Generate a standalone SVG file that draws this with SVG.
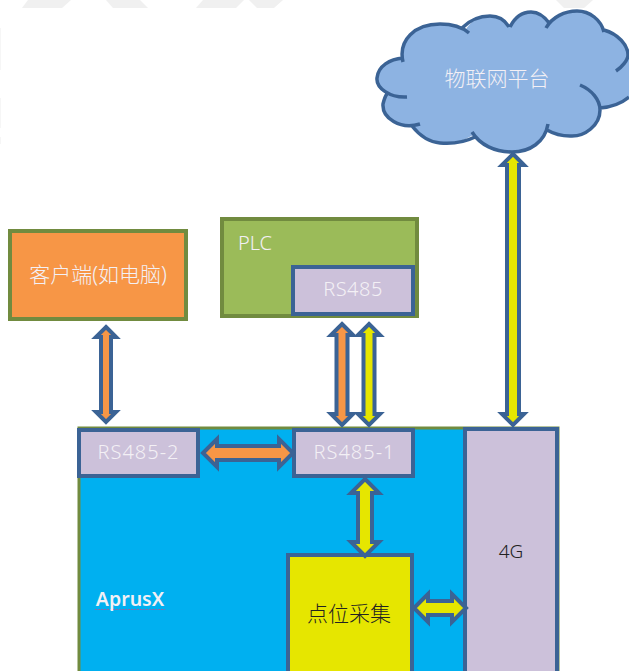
<svg xmlns="http://www.w3.org/2000/svg" width="629" height="671" viewBox="0 0 629 671">
<style>
.box{stroke-width:4;stroke:#3b6395;fill:#ccc1da}
.grn{stroke-width:4;stroke:#718b3f}
.arr{stroke:#3b6395;stroke-width:4;stroke-linejoin:miter}
.o{fill:#f79646}.y{fill:#e6e600}
text{font-family:"Noto Sans","Noto Sans CJK SC",sans-serif;text-anchor:middle;font-weight:300}
.w{fill:#f3f0f5}
.wm{fill:#f0f0f0}
.wl{fill:#f6f6f6}
</style>
<rect width="629" height="671" fill="#fff"/>
<g id="watermark">
<polygon class="wm" points="22,8 62,8 71,0 28,0"/>
<polygon class="wm" points="106,0 140,0 148,8 113,8"/>
<polygon class="wm" points="203,0 244,0 236,8 196,8"/>
<polygon class="wm" points="249,0 283,0 274,8 257,8"/>
<polygon class="wm" points="556,0 593,0 584,8 564,8"/>
<rect class="wl" x="0" y="28" width="1" height="42"/>
<rect class="wl" x="0" y="98" width="1" height="30"/>
<rect class="wl" x="0" y="137" width="1" height="7"/>
</g>
<g id="cloud">
<path d="M403 60C398 40 415 24 440 24C450 24 458 27 465 31C470 21 480 16 490 16C498 16 505 20 510 27C515 17 523 12 531 12C538 12 545 17 550 24C555 16 565 11 577 11C590 11 601 20 604 30C618 34 629 45 629 58V97C622 103 612 107 600 108C600 125 585 137 570 136C562 136 554 134 548 130C542 146 527 152 512 152C495 152 480 145 473 135C462 142 450 144 440 143C428 142 420 136 413 126C395 128 382 116 383 104C384 100 385 96 387 94C378 90 376 84 377 78C378 66 390 59 403 58Z" fill="#8db3e2"/>
<path d="M403 62C398 40 415 24 440 24C452 24 462 27 469 33M462 28C470 20 480 16 490 16C498 16 505 20 509 27M510 27C515 17 523 12 531 12C538 12 545 17 550 24M546 28C552 17 565 11 577 11C590 11 601 20 604 32M604 30C618 34 628 45 628 55C628 60 622 67 616 71M629 58V58M629 97C622 103 612 107 600 108M580 85C592 90 600 100 600 110C600 125 585 137 570 136C562 136 554 134 547 130M548 124C545 142 530 152 512 152C495 152 480 145 472 132M475 137C465 142 452 144 440 143C428 142 420 136 412 126M420 124C400 130 382 118 383 104C384 100 385 96 387 94M407 97C390 98 376 88 377 78C378 66 390 59 403 58" fill="none" stroke="#3b6395" stroke-width="3.5"/>
<text x="497" y="86" font-size="21" class="w">物联网平台</text>
</g>
<g id="client">
<rect class="grn" x="10" y="231" width="176" height="88" fill="#f79646"/>
<text x="98" y="282" font-size="21" class="w">客户端(如电脑)</text>
</g>
<g id="plc">
<rect class="grn" x="222" y="219" width="195" height="97" fill="#9bbb59"/>
<text x="255" y="250" font-size="20" class="w">PLC</text>
</g>
<g id="rs485">
<rect class="box" x="293" y="267" width="120" height="47"/>
<text x="353" y="296" font-size="20" class="w" letter-spacing="0.5">RS485</text>
</g>
<g id="aprusx">
<path d="M79 671V428H558V671" fill="#00b0f0" stroke="#718b3f" stroke-width="3"/>
<line x1="95" y1="609.500" x2="165" y2="609.500" stroke="#8a6aa8" stroke-width="1" stroke-dasharray="2 1"/>
<text x="130" y="606" font-size="19.500" style="font-weight:600" fill="#f3f0f5">AprusX</text>
</g>
<g id="rs485-2">
<rect class="box" x="79" y="430" width="119" height="46"/>
<text x="138.500" y="459" font-size="20" class="w" letter-spacing="1">RS485-2</text>
</g>
<g id="rs485-1">
<rect class="box" x="294" y="430" width="119" height="46"/>
<text x="354.500" y="459" font-size="20" class="w" letter-spacing="1">RS485-1</text>
</g>
<g id="g4">
<rect class="box" x="465" y="429" width="92" height="250"/>
<text x="511" y="558" font-size="19" fill="#222">4G</text>
</g>
<g id="collect">
<rect class="box" x="288" y="555" width="124" height="125" style="fill:#e6e600"/>
<text x="349" y="621" font-size="21" fill="#222">点位采集</text>
</g>
<g id="connectors">
<path class="arr o" d="M106 327L116 337H111V412H116L106 422L96 412H101V337H96Z"/>
<path class="arr o" d="M342 324L353 335H347.500V414H353L342 425L331 414H336.500V335H331Z"/>
<path class="arr y" d="M369 324L380 335H374.500V414H380L369 425L358 414H363.500V335H358Z"/>
<path class="arr y" d="M513 154L524 165H519V414H524L513 425L502 414H507V165H502Z"/>
<path class="arr o" d="M203 453L217 439V446H279V439L293 453L279 467V460H217V467Z"/>
<path class="arr y" d="M365 479L379 493H372V542H379L365 556L351 542H358V493H351Z"/>
<path class="arr y" d="M414 608L428 594V601H452V594L466 608L452 622V615H428V622Z"/>
</g>
</svg>
